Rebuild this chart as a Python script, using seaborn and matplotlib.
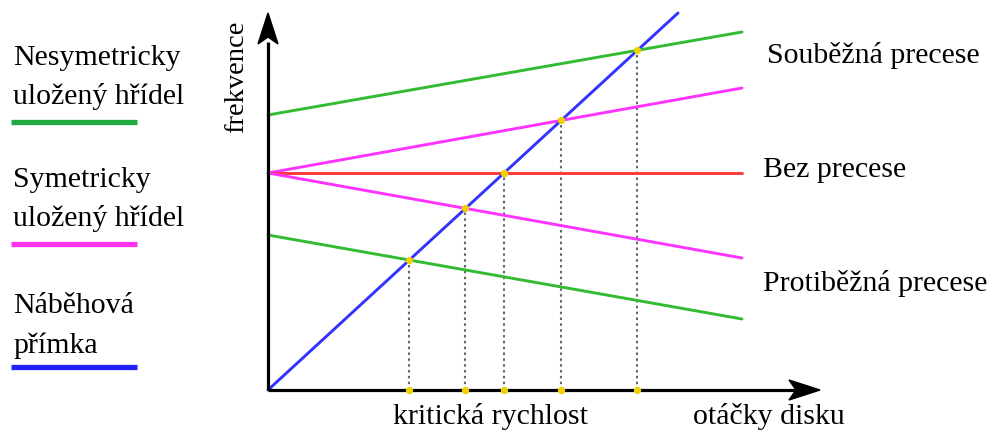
import numpy as np
import pandas as pd
import matplotlib
matplotlib.use("Agg")
import matplotlib.pyplot as plt
from matplotlib.patches import Polygon
import seaborn as sns

sns.set_style("white")
plt.rcParams['font.family'] = ['Liberation Serif', 'DejaVu Serif']
plt.rcParams['text.color'] = 'black'

# ---- data (arbitrary units: speed on x, frequency on y) ----
speed = [0, 474]                 # x range of the precession lines
ramp_speed = [0, 410]            # run-up line ("Náběhová přímka")
ramp_freq = [0, 377]
bez_precese = [217, 217]
sym_soubezna = [217, 302]
sym_protibezna = [217, 132]
nesym_soubezna = [275, 358]
nesym_protibezna = [155, 71]

series_names = ["nesym_up", "sym_up", "bez", "sym_lo", "nesym_lo"]
series_vals = [nesym_soubezna, sym_soubezna, bez_precese, sym_protibezna, nesym_protibezna]
series_cols = ["#33bb33", "#ff33ff", "#ff3838", "#ff33ff", "#33bb33"]

W, H = 988, 432
fig = plt.figure(figsize=(W / 100, H / 100), dpi=100)
ax = fig.add_axes([268 / W, 42 / H, (820 - 268) / W, (390 - 12) / H])
ax.set_xlim(0, 552)
ax.set_ylim(0, 378)
for s in ax.spines.values():
    s.set_visible(False)
ax.set_xticks([])
ax.set_yticks([])

rows = []
for n, v in zip(series_names, series_vals):
    for x, y in zip(speed, v):
        rows.append({"series": n, "x": x, "y": y})
for x, y in zip(ramp_speed, ramp_freq):
    rows.append({"series": "ramp", "x": x, "y": y})
df = pd.DataFrame(rows)
pal = dict(zip(series_names, series_cols))
pal["ramp"] = "#3333ff"

# intersections of the ramp with each line
k = ramp_freq[1] / ramp_speed[1]
crit_x, crit_y = [], []
for v in series_vals:
    b = v[0]
    m = (v[1] - v[0]) / (speed[1] - speed[0])
    xi = b / (k - m)
    crit_x.append(xi)
    crit_y.append(k * xi)

ax.vlines(crit_x, 0, crit_y, colors="#666666", linestyles=(0, (1.2, 1.6)), lw=1.5, zorder=1)

sns.lineplot(data=df, x="x", y="y", hue="series", palette=pal, lw=2.1,
             legend=False, ax=ax, zorder=2, estimator=None, sort=False)
for l in ax.lines:
    l.set_clip_on(False)

# axes lines
ax.plot([0, 0], [0, 348], color="black", lw=2.3, solid_capstyle="butt", clip_on=False, zorder=5)
ax.plot([0, 530], [0, 0], color="black", lw=2.3, solid_capstyle="butt", clip_on=False, zorder=5)

def px(pts):
    return [(x / W, 1 - y / H) for x, y in pts]

# stealth arrowheads (figure pixel coordinates)
fig.add_artist(Polygon(px([(268, 13), (258, 44), (268, 37), (278, 44)]), closed=True,
                       facecolor="black", edgecolor="black", lw=1, transform=fig.transFigure))
fig.add_artist(Polygon(px([(820, 390), (789, 380), (796, 390), (789, 400)]), closed=True,
                       facecolor="black", edgecolor="black", lw=1, transform=fig.transFigure))

ax.scatter(crit_x, crit_y, s=28, color="#f0d000", zorder=6, clip_on=False, linewidths=0)
ax.scatter(crit_x, [0] * len(crit_x), s=28, color="#f0d000", zorder=6, clip_on=False, linewidths=0)

# labels
fs = 21.5
def ft(x, y, s, **kw):
    fig.text(x / W, 1 - y / H, s, fontsize=kw.pop("fontsize", fs), color="black", **kw)

ft(767, 63, "Souběžná precese", va="baseline", ha="left")
ft(763, 177, "Bez precese", va="baseline", ha="left")
ft(763, 291, "Protiběžná precese", va="baseline", ha="left")
ft(490, 424, "kritická rychlost", va="baseline", ha="center")
ft(693, 424, "otáčky disku", va="baseline", ha="left")
ft(237, 77, "frekvence", rotation=90, va="center", ha="center", fontsize=20.5)

ft(13, 65, "Nesymetricky", va="baseline", ha="left")
ft(13, 104, "uložený hřídel", va="baseline", ha="left")
ft(13, 187, "Symetricky", va="baseline", ha="left")
ft(13, 226, "uložený hřídel", va="baseline", ha="left")
ft(13, 313, "Náběhová", va="baseline", ha="left")
ft(13, 353, "přímka", va="baseline", ha="left")

for yy, c in [(122, "#22aa44"), (244, "#ff33ee"), (367, "#2222ff")]:
    fig.add_artist(plt.Line2D([11 / W, 137 / W], [1 - yy / H, 1 - yy / H], color=c, lw=3.8,
                              solid_capstyle="butt"))

fig.savefig("out.png", dpi=100)
